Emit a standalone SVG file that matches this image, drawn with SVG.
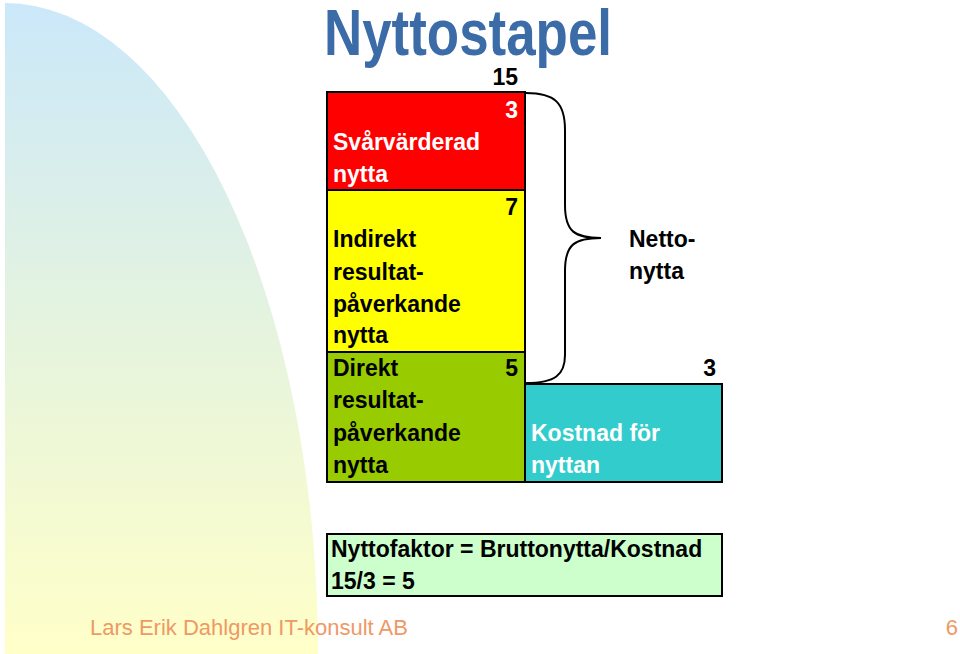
<svg xmlns="http://www.w3.org/2000/svg" width="960" height="654" viewBox="0 0 960 654">
  <defs>
    <linearGradient id="bg" x1="0" y1="0" x2="0" y2="1">
      <stop offset="0" stop-color="#cbe8fa"/>
      <stop offset="0.55" stop-color="#e8f5dc"/>
      <stop offset="1" stop-color="#ffffc8"/>
    </linearGradient>
    <style>
      .t { font-family: "Liberation Sans", Arial, sans-serif; font-weight: bold; font-size: 23px; }
      .w { fill: #ffffff; }
      .k { fill: #000000; }
      .box { stroke: #000; stroke-width: 2; }
    </style>
  </defs>
  <rect width="960" height="654" fill="#ffffff"/>
  <path d="M5,654 L5,3 A313,651 0 0 1 318,654 Z" fill="url(#bg)"/>

  <text x="324" y="55" font-family="Liberation Sans, Arial, sans-serif" font-weight="bold" font-size="65" fill="#3b6ca8" textLength="288" lengthAdjust="spacingAndGlyphs">Nyttostapel</text>

  <text class="t k" x="518" y="85" text-anchor="end">15</text>

  <g id="svarvarderad">
    <rect class="box" x="327" y="92" width="198" height="98" fill="#ff0000"/>
    <text class="t w" x="518" y="118" text-anchor="end">3</text>
    <text class="t w" x="333" y="150">Svårvärderad</text>
    <text class="t w" x="333" y="182">nytta</text>
  </g>

  <g id="indirekt">
    <rect class="box" x="327" y="190" width="198" height="162" fill="#ffff00"/>
    <text class="t k" x="518" y="215" text-anchor="end">7</text>
    <text class="t k" x="333" y="247">Indirekt</text>
    <text class="t k" x="333" y="280">resultat-</text>
    <text class="t k" x="333" y="312">påverkande</text>
    <text class="t k" x="333" y="343">nytta</text>
  </g>

  <g id="direkt">
    <rect class="box" x="327" y="352" width="198" height="130" fill="#99cc00"/>
    <text class="t k" x="518" y="376" text-anchor="end">5</text>
    <text class="t k" x="333" y="376">Direkt</text>
    <text class="t k" x="333" y="408">resultat-</text>
    <text class="t k" x="333" y="441">påverkande</text>
    <text class="t k" x="333" y="473">nytta</text>
  </g>

  <g id="kostnad">
    <rect class="box" x="525" y="384" width="197" height="98" fill="#33cccc"/>
    <text class="t k" x="716" y="376" text-anchor="end">3</text>
    <text class="t w" x="531" y="441">Kostnad för</text>
    <text class="t w" x="531" y="473">nyttan</text>
  </g>

  <g id="connectors">
    <path d="M526,93 C555,93 565,103 565,130 L565,205 C565,232 575,238 601,238 C575,238 565,244 565,271 L565,355 C565,375 555,383 526,383" fill="none" stroke="#000" stroke-width="2"/>
  </g>

  <g id="netto">
    <text class="t k" x="629" y="247">Netto-</text>
    <text class="t k" x="629" y="279">nytta</text>
  </g>

  <g id="nyttofaktor">
    <rect class="box" x="327" y="534" width="395" height="62" fill="#ccffcc"/>
    <text class="t k" x="331" y="557">Nyttofaktor = Bruttonytta/Kostnad</text>
    <text class="t k" x="331" y="589">15/3 = 5</text>
  </g>

  <text x="90" y="635" font-family="Liberation Sans, Arial, sans-serif" font-size="22" fill="#ee9966">Lars Erik Dahlgren IT-konsult AB</text>
  <text x="958" y="635" text-anchor="end" font-family="Liberation Sans, Arial, sans-serif" font-size="22" fill="#ee9966">6</text>
</svg>
